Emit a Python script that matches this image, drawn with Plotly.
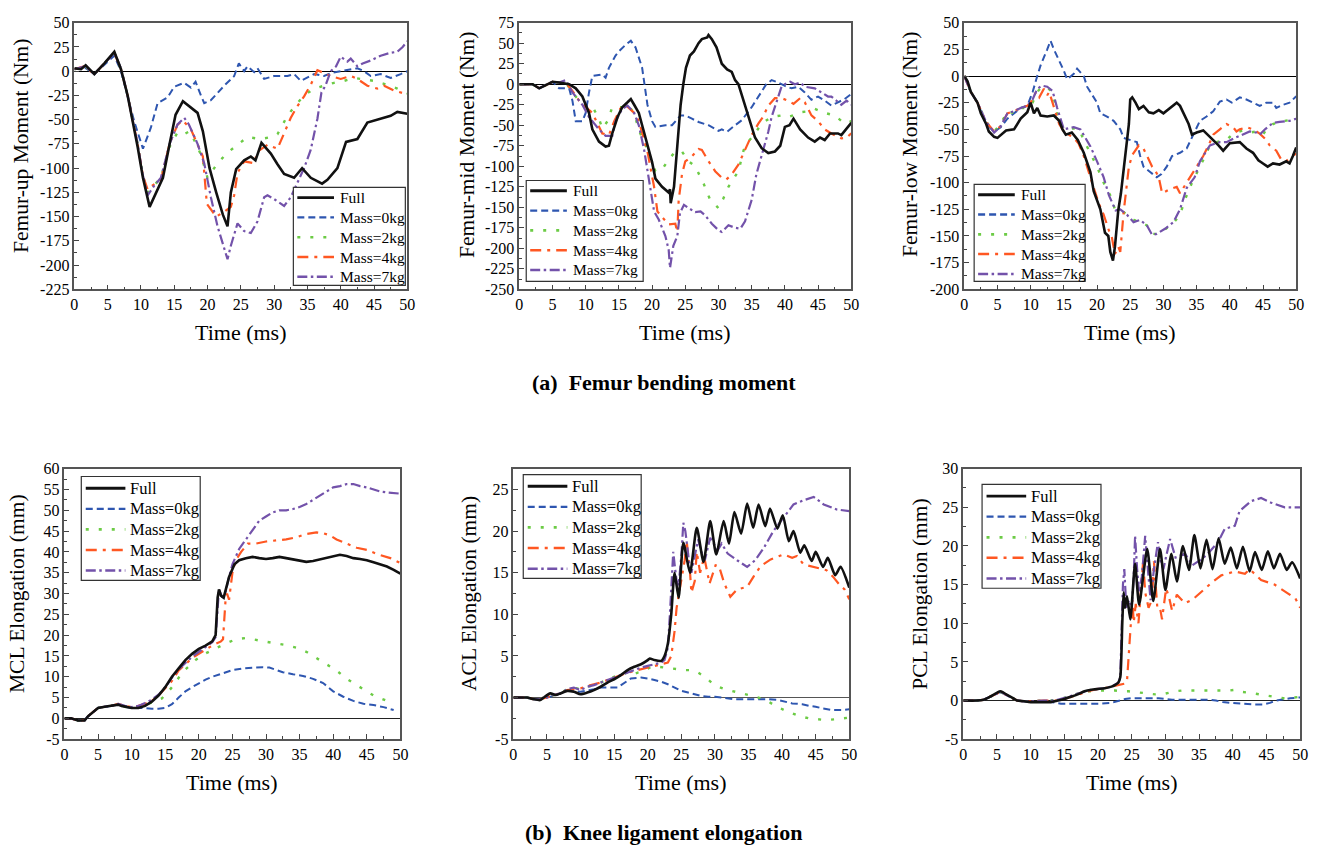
import plotly.graph_objects as go

W, H = 1327, 856
FONT = "Liberation Serif, Times New Roman, serif"

SERIES = ["Full", "Mass=0kg", "Mass=2kg", "Mass=4kg", "Mass=7kg"]
COLORS = ["#111111", "#2E56B0", "#6CCB45", "#FF5722", "#7352AA"]
DASHES = ["solid", "7px,4px", "3px,10px", "11px,6px,3px,6px", "10px,3.5px,2.5px,3.5px"]
WIDTHS = [2.6, 2.0, 2.4, 2.2, 2.2]

X_TICKS = list(range(0, 51, 5))

# ---------------- Femur-up moment (Nm) ----------------
UP_FULL_T = [0, 1, 1.7, 3, 4.5, 6, 7, 8, 9.5, 10.3, 11.3, 12.5, 13.3, 14.3, 15.2, 16.3, 17.5, 18.5, 19.3, 20.3,
             21.3, 22.3, 23.0, 23.5, 24.3, 25.5, 26.5, 27.2, 28.1, 29.5, 30.5, 31.5, 33, 34.2, 35.5, 37.2, 38, 39.5,
             40.8, 42.5, 44, 45.5, 47.5, 48.5, 50]
UP_FULL_V = [3, 2, 6, -3, 8, 20, 2, -25, -78, -110, -140, -122, -110, -75, -45, -31, -38, -43, -62, -100,
             -125, -148, -160, -125, -101, -92, -88, -92, -74, -85, -96, -106, -110, -100, -110, -116, -112, -100,
             -73, -70, -53, -50, -46, -42, -44]
UP_M0_T = [0, 1.5, 3, 5, 6, 7, 8, 9, 10.3, 11.5, 12.5, 14, 15, 16.5, 17.5, 18.2, 19, 19.5, 20.5, 21.5,
           22.5, 24, 24.7, 25.5, 26, 27, 27.5, 28.5, 30, 32, 33, 34, 36, 37.5, 38.5, 40, 41.5, 42.5, 43.5, 44.5,
           46, 47.5, 49, 50]
UP_M0_V = [2, 4, -3, 10, 16, 0, -25, -52, -80, -58, -33, -27, -16, -12, -17, -11, -25, -33, -30, -22,
           -15, -5, 8, 0, 5, -1, 3, -8, -5, -5, -3, -10, -3, -5, -2, 0, 2, 3, 0, -5,
           -3, -7, -3, 0]
UP_M2_T = [0, 1.5, 3, 4.5, 6, 7, 8, 9.5, 10.3, 11, 11.7, 13, 14.3, 15.5, 16.5, 17.3, 18.3, 19, 20, 21.5,
           23, 25, 26, 28, 29.5, 30.5, 32, 33, 34.5, 36, 37.5, 39, 40.5, 42, 43, 45, 46.5, 48.5, 50]
UP_M2_V = [2, 5, -3, 8, 19, 2, -25, -75, -108, -125, -120, -110, -78, -63, -65, -62, -75, -86, -110, -95,
           -84, -73, -68, -70, -68, -65, -46, -37, -25, -18, -15, -12, -10, -7, -8, -10, -13, -18, -23]
UP_M4_T = [0, 1.5, 3, 4.5, 6, 7, 8, 9.5, 10.3, 11, 11.7, 13, 14.3, 15.5, 16.3, 17.5, 18.5, 19.3, 19.9, 21.3,
           22.5, 23.5, 24, 24.5, 25.5, 27, 27.5, 29, 30.5, 31.5, 32.5, 33.5, 34.5, 35.5, 36.5, 37.5, 38.5, 40,
           41.5, 42.5, 44, 45.5, 46.5, 48, 50]
UP_M4_V = [2, 5, -3, 8, 19, 2, -25, -75, -108, -122, -118, -112, -75, -55, -51, -60, -76, -88, -137, -150,
           -145, -140, -128, -105, -93, -95, -83, -76, -80, -63, -48, -36, -26, -14, 1, -2, -5, -8,
           -5, -8, -15, -18, -15, -20, -24]
UP_M7_T = [0, 1.5, 3, 4.5, 6, 7, 8, 9.5, 10.3, 11, 12, 13, 14.3, 15.5, 16.5, 17.2, 18.5, 19.5, 20.5, 21.5,
           22.3, 23, 23.5, 24.5, 25.5, 26.5, 27.5, 28.5, 29, 30, 31.5, 32.5, 33.5, 34.5, 35.5, 36.5, 37.1, 37.7,
           38.5, 39.3, 40, 41, 41.5, 42.5, 43.3, 44.5, 46, 47.5, 48.5, 49.3, 50]
UP_M7_V = [2, 5, -3, 8, 19, 3, -25, -75, -108, -128, -118, -110, -75, -55, -48, -55, -75, -95, -130, -160,
           -177, -194, -180, -157, -165, -167, -155, -130, -128, -132, -139, -130, -115, -100, -81, -49, -22, -15,
           0, 5, 15, 10, 13, 5, 8, 11, 16, 19, 20, 25, 31]

# ---------------- Femur-mid moment (Nm) ----------------
MID_FULL_T = [0, 2, 3, 5, 6, 7.5, 8.5, 9.5, 10.5, 11, 12, 13, 13.5, 14, 14.8, 15.5, 16.3, 16.8, 17.3, 18,
              18.5, 19.3, 20, 20.5, 21.5, 22.5, 22.7, 22.8, 23.3, 23.8, 24.3, 24.7, 25.1, 25.7, 26.3, 27, 27.5,
              28.3, 28.5, 29, 29.7, 30.5, 31.3, 32, 32.5, 33, 34, 34.8, 35.5, 36.5, 37.5, 38.5, 39.3, 40, 40.7,
              41.3, 42.3, 43.5, 44.5, 45.3, 46, 46.8, 48, 48.5, 49.5, 50]
MID_FULL_V = [0, 0, -5, 3, 2, 0, -5, -15, -35, -55, -70, -76, -75, -60, -40, -28, -22, -18, -25, -35,
              -50, -75, -95, -115, -125, -132, -128, -145, -125, -75, -25, 0, 20, 35, 40, 50, 55,
              57, 60, 55, 45, 25, 18, 15, 5, 0, -26, -48, -65, -78, -84, -82, -75, -52, -50,
              -42, -55, -65, -70, -65, -68, -60, -60, -62, -52, -47]
MID_M0_T = [0, 2, 3, 5, 6, 7.5, 8, 8.5, 9.5, 10, 10.5, 11, 12.5, 13, 13.5, 14.5, 15, 16, 16.8, 17.5,
            18.5, 18.9, 19.3, 20, 20.5, 22, 23, 24.3, 25, 26, 27, 28.5, 29, 30, 30.5, 31.3, 32.5, 33.5, 35, 36,
            37.2, 38, 39, 40, 41, 42, 43, 44, 45, 46, 47, 48, 49, 50]
MID_M0_V = [0, 0, -5, 3, -5, -5, -20, -45, -45, -35, -10, 10, 12, 8, 20, 35, 40, 48, 53, 45,
            20, 0, -25, -45, -52, -50, -50, -38, -38, -42, -46, -50, -52, -57, -55, -58, -50, -44, -28, -15,
            0, 5, 2, -2, -5, -3, -10, -19, -15, -20, -26, -22, -18, -12]
MID_M2_T = [0, 2, 3, 5, 6, 7, 8, 9, 10, 11, 12, 12.5, 13.3, 14, 15.5, 16.3, 17.3, 18, 19, 19.8,
            20.5, 21.5, 22.5, 23.5, 24.5, 25.5, 26.5, 27.8, 28.7, 30, 30.7, 31.5, 33, 33.8, 34.5, 35.5, 36.5, 38,
            39.5, 40.5, 42.5, 43.5, 44.5, 46, 47.5, 49, 50]
MID_M2_V = [0, 0, -5, 3, 2, 2, -10, -20, -27, -27, -42, -54, -45, -28, -28, -25, -35, -56, -74, -90,
            -106, -104, -92, -82, -82, -94, -100, -122, -140, -151, -140, -125, -106, -80, -70, -60, -48, -40,
            -38, -40, -34, -33, -30, -35, -38, -48, -45]
MID_M4_T = [0, 2, 3, 5, 6, 7, 8, 9, 10.3, 11, 12.5, 13.5, 14.3, 15.2, 16, 17.3, 18, 18.8, 19.3, 20.3,
            20.8, 21.5, 22.5, 23.5, 23.8, 24, 24.5, 25, 26, 27, 27.5, 28.5, 29.5, 30.5, 31.2, 32, 33, 34, 35, 36,
            36.7, 37.5, 38.5, 39.5, 40.5, 41.3, 42.3, 43, 44, 45, 46, 47, 48.5, 49.3, 50]
MID_M4_V = [0, 0, -5, 3, 2, 2, -8, -20, -30, -35, -60, -62, -45, -30, -25, -35, -45, -70, -82, -125,
            -155, -162, -171, -170, -180, -142, -110, -94, -88, -79, -80, -94, -106, -114, -116, -110, -98, -80,
            -62, -48, -40, -26, -17, -17, -20, -24, -17, -22, -38, -45, -55, -60, -66, -65, -60]
MID_M7_T = [0, 2, 3, 5, 6, 7, 8, 9.5, 10.5, 12, 13, 14, 14.5, 15.5, 16.3, 17.3, 18, 18.8, 19.7, 20.3,
            21, 22, 22.5, 22.7, 23.2, 23.8, 24.2, 24.8, 25.5, 26.5, 27.3, 28, 29, 30, 30.5, 31.5, 32.5, 33.3, 34,
            35, 35.7, 36.8, 37.5, 38, 38.8, 39.5, 40, 40.8, 41.5, 42.3, 43, 44.5, 45.5, 46.5, 47, 48, 48.5, 49.3,
            50]
MID_M7_V = [0, 0, -5, 3, 2, 5, -10, -25, -40, -55, -63, -63, -45, -30, -26, -35, -50, -80, -125, -155,
            -165, -185, -202, -224, -197, -185, -157, -147, -151, -156, -155, -160, -170, -178, -180, -172, -175,
            -176, -167, -141, -110, -80, -58, -40, -20, -3, 0, 3, 0, 2, -3, -5, -10, -15, -15, -22, -25, -20,
            -25]

# ---------------- Femur-low moment (Nm) ----------------
LOW_FULL_T = [0, 0.5, 1, 2, 2.5, 3.3, 3.7, 4.5, 5, 5.5, 6.3, 7.5, 8, 8.5, 9.5, 10, 10.5, 11, 11.5, 12.5,
              13.5, 14.3, 14.8, 15.3, 16.2, 17.1, 18, 19, 19.5, 20.5, 21.2, 21.7, 22, 22.4, 22.7, 23.2, 23.6,
              24.3, 24.8, 25, 25.3, 25.8, 26.3, 27, 27.8, 28.5, 29.3, 30, 31, 31.5, 32, 32.5, 33, 33.8, 34.3, 35,
              36, 37, 38.3, 39, 40, 41.5, 42.5, 43.5, 44.3, 45, 45.7, 46.5, 47.5, 48.5, 49, 49.5, 50]
LOW_FULL_V = [0, -5, -15, -25, -35, -45, -52, -57, -58, -55, -51, -50, -45, -40, -34, -25, -35, -30, -37, -38,
              -37, -42, -50, -55, -53, -60, -72, -90, -108, -125, -147, -150, -165, -173, -160, -126, -110,
              -75, -45, -22, -20, -25, -31, -28, -34, -35, -32, -35, -30, -27, -25, -28, -35, -45, -55, -53,
              -51, -57, -65, -70, -63, -62, -68, -72, -79, -82, -85, -82, -83, -80, -82, -75, -67]
LOW_M0_T = [0, 1, 2, 3.3, 4.5, 5.5, 6.5, 7.5, 8.5, 9.5, 10.3, 11, 11.5, 12.5, 13, 13.5, 14.3, 15, 15.5, 16.5,
            17, 18, 18.5, 19.5, 20, 20.5, 21.5, 22.5, 23.5, 24, 25, 26, 26.5, 27, 28, 29, 29.7, 30.5, 31.3, 32.5,
            33.5, 34.5, 35.5, 36.5, 37.5, 38.5, 39.5, 40.3, 41, 41.5, 42.5, 43.5, 44.5, 45.5, 46.5, 47, 48, 49, 50]
LOW_M0_V = [0, -15, -25, -45, -52, -48, -40, -35, -30, -28, -15, 0, 10, 25, 33, 25, 15, 5, -3, 2,
            7, 0, -10, -20, -25, -35, -38, -42, -50, -58, -60, -62, -75, -85, -90, -95, -92, -85, -75, -72,
            -68, -55, -42, -38, -33, -24, -22, -25, -22, -20, -22, -25, -28, -25, -25, -30, -27, -25, -19]
LOW_M2_T = [0, 1, 2, 3.3, 4.5, 5.5, 6.5, 7.5, 8.5, 9.5, 10.3, 11, 11.7, 12.5, 13.3, 14, 14.8, 15.5, 16.5, 17.3,
            18, 18.8, 20, 21, 22, 22.7, 23.5, 24.5, 25.5, 26.5, 27.5, 28.3, 29, 30, 31.5, 32.5, 33.3, 34.3, 35.3,
            36.3, 37, 38, 39.5, 40.5, 42, 43, 44, 45, 45.5, 46.5, 47.5, 48.5, 50]
LOW_M2_V = [0, -15, -25, -43, -52, -45, -33, -35, -30, -30, -25, -15, -10, -11, -15, -35, -48, -50, -49, -50,
            -60, -70, -85, -100, -112, -125, -125, -130, -135, -137, -140, -148, -148, -145, -138, -130, -115,
            -100, -88, -75, -65, -62, -60, -54, -51, -53, -52, -55, -50, -45, -43, -42, -40]
LOW_M4_T = [0, 1, 2, 3.3, 4.5, 5.5, 6.5, 7.5, 8.5, 9.5, 10, 10.8, 11.3, 12, 12.5, 12.8, 13.3, 13.8, 14.3, 15,
            15.8, 16.5, 17.2, 18, 19, 19.5, 20.3, 21, 21.8, 22.2, 22.7, 23.2, 23.5, 24, 24.5, 24.8, 25.3, 25.8,
            26.3, 27, 27.5, 28.3, 28.8, 29.3, 29.8, 31, 32, 32.5, 33.5, 34.5, 35, 36, 36.8, 37.5, 38.5, 39.5,
            40.5, 41, 41.5, 42.5, 43.5, 44.5, 45.5, 46, 47, 47.8, 48.5, 49.3, 50]
LOW_M4_V = [0, -15, -25, -43, -52, -47, -35, -33, -30, -28, -25, -15, -20, -12, -18, -15, -25, -35, -45, -52,
            -55, -58, -63, -75, -95, -105, -120, -130, -145, -150, -167, -160, -165, -128, -100, -85, -74, -70,
            -65, -68, -75, -85, -89, -95, -110, -106, -104, -110, -100, -90, -85, -75, -65, -55, -50, -45,
            -48, -52, -50, -48, -50, -54, -60, -65, -70, -79, -80, -75, -73]
LOW_M7_T = [0, 1, 2, 3.3, 4.5, 5.5, 6.5, 7.5, 8.5, 9.5, 10.3, 11, 11.7, 12.5, 13.3, 14, 15, 16.5, 17.5, 18.5,
            19, 20, 21, 21.8, 22.8, 23.5, 24.5, 25.5, 26.5, 27.5, 28.3, 29, 30.3, 31.5, 32.5, 33.5, 34.7, 35.5,
            36.5, 37, 38.5, 39.5, 40.8, 42, 43, 44, 44.5, 45.3, 46.5, 47.5, 49, 50]
LOW_M7_V = [0, -15, -25, -43, -53, -47, -35, -33, -30, -28, -22, -12, -9, -10, -14, -30, -50, -48, -50, -60,
            -66, -80, -95, -112, -126, -125, -130, -137, -135, -140, -149, -148, -143, -137, -125, -105, -95,
            -80, -70, -65, -62, -62, -58, -55, -52, -53, -55, -50, -44, -43, -42, -40]

# ---------------- MCL elongation (mm) ----------------
MCL_FULL_T = [0, 1, 2, 3, 3.5, 4.3, 5, 6, 7, 8, 8.5, 9, 10, 11, 12, 13, 14, 15, 16, 17,
              18, 19, 20, 21, 22, 22.5, 22.8, 23, 23.3, 23.7, 24, 24.5, 25.3, 26, 27, 28, 29, 30, 31, 32,
              33, 34, 35, 36, 37, 38, 39.5, 41, 42, 43, 44, 45, 46, 47, 48, 49, 50]
MCL_FULL_V = [0, 0, -0.5, -0.5, 0.5, 1.5, 2.5, 2.8, 3, 3.3, 3, 2.8, 2.5, 2.5, 3, 4, 5.5, 7.5, 10, 12,
              14, 15.5, 16.7, 17.5, 18.5, 20, 29, 31, 29.5, 29, 31, 34, 37, 38, 38.5, 38.8, 38.5, 38.3, 38.5, 38.8,
              38.5, 38.2, 37.8, 37.6, 37.8, 38.2, 38.8, 39.3, 39, 38.5, 38.3, 38, 37.5, 37, 36.5, 35.7, 34.8]
MCL_M0_T = [0, 1, 2, 3, 3.5, 4.3, 5, 6, 7, 8, 9, 10, 11, 12, 13, 14, 15, 16, 17, 18,
            19, 20, 21, 22, 24, 25, 26.5, 28, 29.5, 30.5, 31.5, 32.5, 34, 35.5, 37, 38.5, 40, 41.5, 43, 44.5,
            46, 47.5, 49]
MCL_M0_V = [0, 0, -0.5, -0.5, 0.5, 1.5, 2.5, 2.8, 3, 3.3, 2.8, 2.5, 2.5, 2.5, 2.3, 2.3, 2.5, 3.4, 5, 6.5,
            7.5, 8.5, 9.3, 10, 11, 11.6, 12, 12.2, 12.3, 12.2, 11.6, 11.1, 10.6, 10.2, 9.5, 8.5, 6.5, 5.2, 4.2, 3.5,
            3.2, 2.7, 2]
MCL_M2_T = [0, 1, 2, 3, 3.5, 4.3, 5, 6, 7, 8, 9, 10, 11, 12, 13, 14.5, 15.5, 16.5, 17.5, 18.5,
            19.5, 20.5, 21.5, 22.5, 24, 25.5, 27, 28, 29.5, 31.5, 33, 34.5, 36, 37.5, 39, 40.5, 42, 44, 46, 48, 49]
MCL_M2_V = [0, 0, -0.5, -0.5, 0.5, 1.5, 2.5, 2.8, 3, 3.3, 2.8, 2.5, 2.7, 3.2, 3.8, 4.8, 6.5, 8.5, 11, 12.5,
            14, 15.2, 16, 17, 18, 19, 19.3, 19, 18.5, 18, 17.6, 17, 16, 14.5, 13, 11.5, 9.5, 7.5, 5.5, 4.2, 3.6]
MCL_M4_T = [0, 1, 2, 3, 3.5, 4.3, 5, 6, 7, 8, 9, 10, 11, 12, 13, 14, 15, 16, 17, 18,
            19, 20, 21, 22, 23.3, 23.6, 24, 24.2, 24.5, 25, 25.5, 26.3, 27.3, 28.5, 30, 32, 33, 34.5, 36, 37.5,
            38.5, 39.5, 40.5, 42, 43.5, 45, 46.5, 48.5, 50]
MCL_M4_V = [0, 0, -0.5, -0.5, 0.5, 1.5, 2.5, 2.8, 3, 3.5, 3, 2.7, 3, 3.5, 4.2, 5.5, 7.2, 9, 11.5, 13,
            14.5, 15.5, 16.5, 17.5, 18.5, 19, 29, 30, 28.5, 35, 38, 40, 42, 42, 42.5, 42.8, 43, 43.5, 44.3, 44.7,
            44.5, 44, 43, 42, 41, 40.5, 39.5, 38.5, 37.3]
MCL_M7_T = [0, 1, 2, 3, 3.5, 4.3, 5, 6, 7, 8, 9, 10, 11, 12, 13, 14, 15, 16, 17, 18,
            19, 20, 21, 22, 22.5, 23, 23.5, 24, 24.5, 25, 26, 27, 28, 29, 30, 31, 32, 33, 34, 35,
            36, 37, 38, 39, 40, 41, 42, 43, 44, 45, 46, 47, 48, 49, 50]
MCL_M7_V = [0, 0, -0.5, -0.5, 0.5, 1.5, 2.5, 2.8, 3, 3.5, 3, 2.7, 3, 3.7, 4.5, 5.7, 7.5, 9.8, 11.8, 13.3,
            14.8, 16, 17.2, 18.3, 19.5, 31, 29, 30.5, 34, 37, 40.7, 43, 45.5, 47.5, 48.5, 49.5, 50, 50, 50.3, 50.8,
            51.5, 52.5, 53.5, 54.5, 55.5, 55.8, 56.3, 56.3, 55.8, 55.5, 55, 54.5, 54.3, 54.2, 54]

# ---------------- ACL elongation (mm) ----------------
ACL_FULL_T = [0, 2, 3, 4, 4.5, 5.5, 6.3, 7, 8, 9, 10, 11, 12, 13, 14, 15, 16, 17, 18, 19,
              20, 20.3, 21, 22, 22.5, 23, 23.5, 24.0, 24.6, 25.3, 26.3, 27.3, 28.3, 29.3, 30.2, 31.3, 32.1, 32.9,
              33.9, 34.8, 35.7, 36.5, 37.5, 38.2, 39.3, 40.1, 41.0, 41.7, 42.7, 43.3, 44.4, 45.0, 46.1, 46.8,
              47.9, 48.7, 50]
ACL_FULL_V = [0, 0, -0.2, -0.3, 0, 0.5, 0.3, 0.5, 0.8, 0.7, 0.4, 0.6, 0.9, 1.3, 1.8, 2.2, 2.7, 3.3, 3.7, 4.0,
              4.5, 4.7, 4.5, 4.4, 5, 6.5, 10, 15, 12, 18.6, 15, 20.4, 16.3, 21.2, 17.2, 21.2, 18.5, 22.3,
              19.7, 23.3, 20.4, 23.2, 20.6, 22.7, 20.3, 21.9, 18.8, 20, 17.4, 18.3, 16.4, 17.5, 15.7, 16.8,
              14.7, 15.7, 13.2]
ACL_M0_T = [0, 2, 3, 4, 5, 6, 7, 8, 9, 10, 12, 13, 15.5, 16.5, 17.5, 19, 20, 21, 22, 23,
            24, 25, 26, 27, 28, 29, 30, 31, 32, 33, 35, 37, 38, 39.5, 40.5, 41.5, 43, 44, 45, 46, 47.5, 49, 50]
ACL_M0_V = [0, 0, -0.2, -0.2, 0, 0.2, 0.5, 0.8, 0.8, 0.7, 1, 1.2, 1.2, 1.8, 2.3, 2.4, 2.3, 2.1, 1.9, 1.6,
            1.2, 0.8, 0.6, 0.4, 0.2, 0.1, 0.1, 0, -0.1, -0.2, -0.2, -0.2, -0.2, -0.3, -0.5, -0.7, -0.8, -1, -1.1,
            -1.3, -1.5, -1.5, -1.4]
ACL_M2_T = [0, 2, 3, 4, 5, 6, 7, 8, 9, 10, 11, 12, 13, 14, 15, 16, 17, 17.5, 18.5, 19.5,
            20.5, 21.5, 22.5, 23.5, 24.5, 25.5, 26.5, 27.5, 28.5, 29.5, 30.5, 31.5, 32.5, 34, 35.5, 36.5, 38, 39,
            40.3, 41.3, 42.5, 44, 45, 46.5, 48, 50]
ACL_M2_V = [0, 0, -0.2, -0.2, 0, 0.3, 0.5, 1, 1.2, 1, 1.3, 1.5, 1.8, 2.2, 2.5, 2.8, 3, 2.6, 3, 3.2,
            3.7, 3.7, 3.6, 3.5, 3.4, 3.3, 3.3, 3, 2.5, 1.8, 1.3, 1, 0.8, 0.5, 0.2, 0, -0.5, -1, -1.5, -1.8,
            -2.2, -2.5, -2.6, -2.7, -2.6, -2.4]
ACL_M4_T = [0, 2, 3, 4, 5, 6, 7, 8, 9, 10, 11, 12, 13, 14, 15, 16, 17, 18, 19, 20,
            21, 22, 23, 23.5, 24, 24.3, 24.5, 24.8, 25, 25.5, 25.8, 26.3, 26.5, 27, 27.3, 27.8, 28.4, 29.2, 30.1,
            30.6, 31.4, 32.3, 33.3, 34.8, 35.8, 36.8, 38.3, 40.2, 41.5, 42.2, 43.2, 44.7, 46.6, 47.6, 48.6, 49.3,
            50]
ACL_M4_V = [0, 0, -0.2, -0.2, 0, 0.3, 0.5, 0.9, 1, 1.1, 1.4, 1.6, 1.8, 2.1, 2.4, 2.7, 3, 3.2, 3.4, 3.6,
            3.8, 4, 4.2, 5, 8, 10.8, 11.8, 13, 14, 16.5, 18.8, 15, 12.6, 14, 17.5, 15, 16.9, 13.7, 15.9,
            15.8, 13.7, 12.1, 13, 13.3, 14.6, 15.8, 16.6, 17.2, 16.8, 17, 16, 15.7, 15.3, 14.5, 13.5, 13,
            11.8]
ACL_M7_T = [0, 2, 3, 4, 5, 6, 7, 8, 9, 10, 11, 12, 13, 14, 15, 16, 17, 18, 19, 20,
            21, 22, 22.5, 23, 23.3, 23.6, 23.8, 24, 24.3, 24.6, 25, 25.3, 25.6, 26.2, 26.5, 27, 27.5, 28, 28.5,
            29.3, 30.4, 31, 31.9, 33.3, 34.8, 36, 37.3, 38.7, 40.2, 41.7, 43.2, 44.7, 46.2, 48.1, 50]
ACL_M7_V = [0, 0, -0.2, -0.2, 0, 0.3, 0.5, 1, 1.2, 0.9, 1.3, 1.5, 1.8, 2.1, 2.4, 2.7, 3, 3.3, 3.6, 3.8,
            4, 4.2, 4.5, 6, 10, 14, 17.5, 16, 14, 13.5, 17, 21, 20, 16, 15, 17, 19, 17.5, 16.5,
            19.2, 17.7, 18.5, 17.3, 16.5, 15.7, 16.5, 18, 20, 21.6, 23.2, 23.7, 24.1, 23.2, 22.6, 22.4]

# ---------------- PCL elongation (mm) ----------------
PCL_FULL_T = [0, 2, 3, 4, 5, 5.5, 6, 7, 8, 9, 10, 12, 13, 14, 15, 16, 17, 18, 19, 20,
              21, 22, 22.5, 23, 23.3, 23.6, 23.8, 24, 24.3, 24.8, 25.5, 26.1, 27.3, 28.2, 29.2, 30, 30.9, 31.7,
              32.6, 33.5, 34.3, 35.2, 36.1, 37, 37.9, 38.8, 39.7, 40.6, 41.5, 42.5, 43.3, 44.3, 45.2, 46.1, 47,
              48, 48.8, 50]
PCL_FULL_V = [0, 0, 0.1, 0.5, 1, 1.2, 1, 0.5, 0, -0.1, -0.2, -0.2, -0.2, 0, 0.2, 0.5, 0.8, 1.2, 1.4, 1.5,
              1.6, 1.8, 2, 2.3, 3, 10, 14, 12, 13.5, 10.5, 17.7, 12.4, 19.6, 12.9, 19.6, 14.3, 19, 15.4,
              20, 16.9, 21.4, 17.1, 20.8, 17, 21, 17.7, 19.8, 17.1, 19.9, 16.7, 19.2, 16.9, 19.3, 17.1, 19,
              16.9, 17.9, 15.8]
PCL_M0_T = [0, 2, 3, 4, 5, 5.5, 6, 7, 8, 9, 10, 13, 14.5, 16, 17.5, 19, 20.5, 22, 23, 24,
            25, 26, 27, 28, 29, 30, 31, 32, 34, 35.5, 36.5, 37.5, 38.5, 39.5, 41, 42, 43, 44.5, 45.5, 46.5,
            47.5, 48.5, 50]
PCL_M0_V = [0, 0, 0.1, 0.5, 1, 1.1, 0.9, 0.5, 0, -0.1, -0.2, -0.2, -0.4, -0.4, -0.4, -0.4, -0.4, -0.3, 0, 0.2,
            0.3, 0.3, 0.3, 0.3, 0.3, 0.2, 0.1, 0.1, 0.1, 0.1, 0.1, 0, -0.2, -0.3, -0.4, -0.5, -0.5, -0.5, -0.3, 0,
            0.2, 0.3, 0.4]
PCL_M2_T = [0, 2, 3, 4, 5, 5.5, 6, 7, 8, 9, 10, 12, 13, 14, 15, 16, 17, 18, 19, 20,
            21.5, 22.5, 23.5, 24.5, 25.5, 26.5, 27.5, 28.5, 29.5, 30.5, 31.5, 32.5, 34, 35.5, 37, 38.5, 39.5,
            40.5, 41.5, 42.5, 44, 45.5, 46.5, 47.5, 48.5, 50]
PCL_M2_V = [0, 0, 0.1, 0.5, 1, 1.1, 0.9, 0.5, 0, -0.1, -0.1, 0, 0, 0.1, 0.3, 0.6, 0.9, 1.2, 1.2, 1.3,
            1.3, 1.3, 1.2, 1.2, 1.1, 1, 0.9, 0.8, 0.8, 1, 1.2, 1.3, 1.3, 1.35, 1.3, 1.3, 1.3,
            1.4, 1.1, 1, 0.8, 0.6, 0.4, 0.3, 0.3, 0.5]
PCL_M4_T = [0, 2, 3, 4, 5, 5.5, 6, 7, 8, 9, 10, 12, 14, 15, 16, 17, 18, 19, 20, 21,
            22, 23, 24, 24.3, 24.5, 24.8, 25.1, 25.3, 25.6, 26, 26.3, 26.7, 27, 27.5, 28, 28.3, 28.8, 29.2, 29.5,
            30.1, 30.5, 31, 31.7, 32.9, 34.1, 35.4, 36.8, 38.3, 40.3, 41.8, 42.5, 44.2, 46.2, 48.1, 49.3, 50]
PCL_M4_V = [0, 0, 0.1, 0.5, 1, 1.1, 0.9, 0.5, 0, -0.1, -0.1, 0, 0, 0.2, 0.5, 0.8, 1.1, 1.3, 1.5, 1.6,
            1.8, 2, 2.2, 2.5, 5, 10, 13, 10.1, 12.5, 10, 13, 18, 14, 12, 13, 18, 12, 12, 10.5,
            14.5, 13.5, 11.6, 13.7, 12.6, 13.1, 14.1, 15.2, 16.2, 16.7, 16.4, 17, 15.6, 15, 13.9, 13.2, 12]
PCL_M7_T = [0, 2, 3, 4, 5, 5.5, 6, 7, 8, 9, 10, 12, 13, 14, 15, 16, 17, 18, 19, 20,
            21, 22, 22.5, 23, 23.3, 23.5, 23.7, 23.9, 24.2, 24.6, 25, 25.3, 25.5, 25.8, 26.1, 26.5, 27, 27.4,
            27.8, 28.3, 28.9, 29.3, 29.7, 30.2, 30.7, 31.5, 32.9, 34, 35.4, 36.3, 37.8, 38.8, 40.3, 41, 42.7,
            44.2, 45.7, 47.7, 50]
PCL_M7_V = [0, 0, 0.1, 0.5, 1, 1.1, 0.9, 0.5, 0, -0.1, -0.1, 0, 0, 0.1, 0.3, 0.6, 0.9, 1.2, 1.4, 1.5,
            1.6, 1.8, 2, 2.3, 3, 8, 15, 17, 12, 13, 12, 16, 21.3, 17, 14, 16, 21.3, 17,
            13, 17, 20.5, 18, 17, 19, 20.9, 18.5, 19, 17.5, 18.3, 19, 20.5, 22.2, 22.6, 24.5, 25.8,
            26.2, 25.6, 25, 25]

# Legend box styles: (first row offset, row step, line start, line end, text offset, font size)
LEG_TOP = (10.5, 20.2, 4, 41, 45, 15.5)
LEG_BOTTOM = (12, 21, 4.5, 44.5, 47.5, 16.5)

# Panel layout in pixels: plot box (left, top, right, bottom), legend box (left, top, right, bottom),
# y-title centre and x-title centre.
PANELS = [
    dict(ytitle="Femur-up Moment (Nm)", yrange=[-225, 50], yticks=list(range(-225, 51, 25)), ystep=25,
         box=(71, 15, 407, 287), leg=(292, 183, 405, 283), legstyle=LEG_TOP, ytxy=(17, 140), xtxy=(239, 331),
         zc="#000000", smooth=False,
         data=[(UP_FULL_T, UP_FULL_V), (UP_M0_T, UP_M0_V), (UP_M2_T, UP_M2_V), (UP_M4_T, UP_M4_V),
               (UP_M7_T, UP_M7_V)]),
    dict(ytitle="Femur-mid Moment (Nm)", yrange=[-250, 75], yticks=list(range(-250, 76, 25)), ystep=25,
         box=(520, 15, 855, 287), leg=(527, 176, 645, 279), legstyle=LEG_TOP, ytxy=(467, 139), xtxy=(687, 331),
         zc="#000000", smooth=False,
         data=[(MID_FULL_T, MID_FULL_V), (MID_M0_T, MID_M0_V), (MID_M2_T, MID_M2_V), (MID_M4_T, MID_M4_V),
               (MID_M7_T, MID_M7_V)]),
    dict(ytitle="Femur-low Moment (Nm)", yrange=[-200, 50], yticks=list(range(-200, 51, 25)), ystep=25,
         box=(969, 15, 1304, 287), leg=(979, 180, 1091, 279), legstyle=LEG_TOP, ytxy=(915, 139),
         xtxy=(1136, 331), zc="#000000", smooth=False,
         data=[(LOW_FULL_T, LOW_FULL_V), (LOW_M0_T, LOW_M0_V), (LOW_M2_T, LOW_M2_V), (LOW_M4_T, LOW_M4_V),
               (LOW_M7_T, LOW_M7_V)]),
    dict(ytitle="MCL Elongation (mm)", yrange=[-5, 60], yticks=list(range(-5, 61, 5)), ystep=5,
         box=(61, 470, 400, 746), leg=(78, 478, 198, 584), legstyle=LEG_BOTTOM, ytxy=(13, 597), xtxy=(230, 790),
         zc="#222222", smooth=False,
         data=[(MCL_FULL_T, MCL_FULL_V), (MCL_M0_T, MCL_M0_V), (MCL_M2_T, MCL_M2_V), (MCL_M4_T, MCL_M4_V),
               (MCL_M7_T, MCL_M7_V)]),
    dict(ytitle="ACL Elongation (mm)", yrange=[-5, 27.5], yticks=list(range(-5, 26, 5)), ystep=5,
         box=(514, 470, 853, 746), leg=(524, 476, 643, 582), legstyle=LEG_BOTTOM, ytxy=(469, 597),
         xtxy=(683, 790), zc="#555555", smooth=True,
         data=[(ACL_FULL_T, ACL_FULL_V), (ACL_M0_T, ACL_M0_V), (ACL_M2_T, ACL_M2_V), (ACL_M4_T, ACL_M4_V),
               (ACL_M7_T, ACL_M7_V)]),
    dict(ytitle="PCL Elongation (mm)", yrange=[-5, 30], yticks=list(range(-5, 31, 5)), ystep=5,
         box=(968, 470, 1308, 746), leg=(987, 486, 1107, 592), legstyle=LEG_BOTTOM, ytxy=(924, 598),
         xtxy=(1138, 790), zc="#222222", smooth=True,
         data=[(PCL_FULL_T, PCL_FULL_V), (PCL_M0_T, PCL_M0_V), (PCL_M2_T, PCL_M2_V), (PCL_M4_T, PCL_M4_V),
               (PCL_M7_T, PCL_M7_V)]),
]

SECTION_TITLES = [("(a)  Femur bending moment", 666, 382), ("(b)  Knee ligament elongation", 666, 841)]


def px(x):
    return x / W


def py(y):
    return 1 - y / H


fig = go.Figure()
layout = dict(width=W, height=H, margin=dict(l=0, r=0, t=0, b=0), paper_bgcolor="white",
              plot_bgcolor="white", font=dict(family=FONT, color="black"), showlegend=False)
annotations = []
shapes = []

for i, p in enumerate(PANELS, start=1):
    sfx = "" if i == 1 else str(i)
    x0, y0, x1, y1 = p["box"]
    tick_style = dict(ticks="inside", ticklen=5, tickwidth=1.2, tickcolor="#444444",
                      showline=True, linecolor="#555555", linewidth=1.5, mirror=True, showgrid=False,
                      tickfont=dict(family=FONT, size=16, color="black"))
    layout["xaxis" + sfx] = dict(domain=[px(x0), px(x1)], anchor="y" + sfx, range=[0, 50],
                                 tickmode="array", tickvals=X_TICKS, ticktext=[str(v) for v in X_TICKS],
                                 minor=dict(ticks="inside", ticklen=3, tickcolor="#444444", dtick=2.5, tick0=0),
                                 zeroline=False, **tick_style)
    layout["yaxis" + sfx] = dict(domain=[py(y1), py(y0)], anchor="x" + sfx, range=p["yrange"],
                                 tickmode="array", tickvals=p["yticks"], ticktext=[str(v) for v in p["yticks"]],
                                 minor=dict(ticks="inside", ticklen=3, tickcolor="#444444",
                                            dtick=p["ystep"] / 2, tick0=0),
                                 zeroline=True, zerolinecolor=p["zc"], zerolinewidth=1.1, **tick_style)

    # curves: the Full curve is drawn last so it sits on top
    for k in [1, 2, 3, 4, 0]:
        t, v = p["data"][k]
        line = dict(color=COLORS[k], width=WIDTHS[k], dash=DASHES[k])
        if p["smooth"] and k == 0:
            line.update(shape="spline", smoothing=0.6)
        fig.add_trace(go.Scatter(x=t, y=v, mode="lines", name=SERIES[k], line=line,
                                 xaxis="x" + sfx, yaxis="y" + sfx, hoverinfo="skip"))

    # boxed legend inside the plot area
    lx0, ly0, lx1, ly1 = p["leg"]
    first, step, ls, le, tx, fs = p["legstyle"]
    shapes.append(dict(type="rect", xref="paper", yref="paper", x0=px(lx0), x1=px(lx1), y0=py(ly1), y1=py(ly0),
                       line=dict(color="#333333", width=1.2), fillcolor="white", layer="above"))
    for k, name in enumerate(SERIES):
        yy = ly0 + first + k * step
        shapes.append(dict(type="line", xref="paper", yref="paper", x0=px(lx0 + ls), x1=px(lx0 + le),
                           y0=py(yy), y1=py(yy), layer="above",
                           line=dict(color=COLORS[k], width=WIDTHS[k] + 0.3, dash=DASHES[k])))
        annotations.append(dict(text=name, x=px(lx0 + tx), y=py(yy), xref="paper", yref="paper",
                                showarrow=False, xanchor="left", yanchor="middle",
                                font=dict(family=FONT, size=fs, color="black")))

    annotations.append(dict(text=p["ytitle"], x=px(p["ytxy"][0]), y=py(p["ytxy"][1]), xref="paper",
                            yref="paper", textangle=-90, showarrow=False, xanchor="center", yanchor="middle",
                            font=dict(family=FONT, size=21.5, color="black")))
    annotations.append(dict(text="Time (ms)", x=px(p["xtxy"][0]), y=py(p["xtxy"][1]), xref="paper",
                            yref="paper", showarrow=False, xanchor="center", yanchor="middle",
                            font=dict(family=FONT, size=22, color="black")))

for text, cx, cy in SECTION_TITLES:
    annotations.append(dict(text="<b>" + text.replace("  ", "&nbsp; ") + "</b>", x=px(cx), y=py(cy),
                            xref="paper", yref="paper", showarrow=False, xanchor="center", yanchor="middle",
                            font=dict(family=FONT, size=22, color="black")))

layout["annotations"] = annotations
layout["shapes"] = shapes
fig.update_layout(**layout)
fig.write_html("out.html")
